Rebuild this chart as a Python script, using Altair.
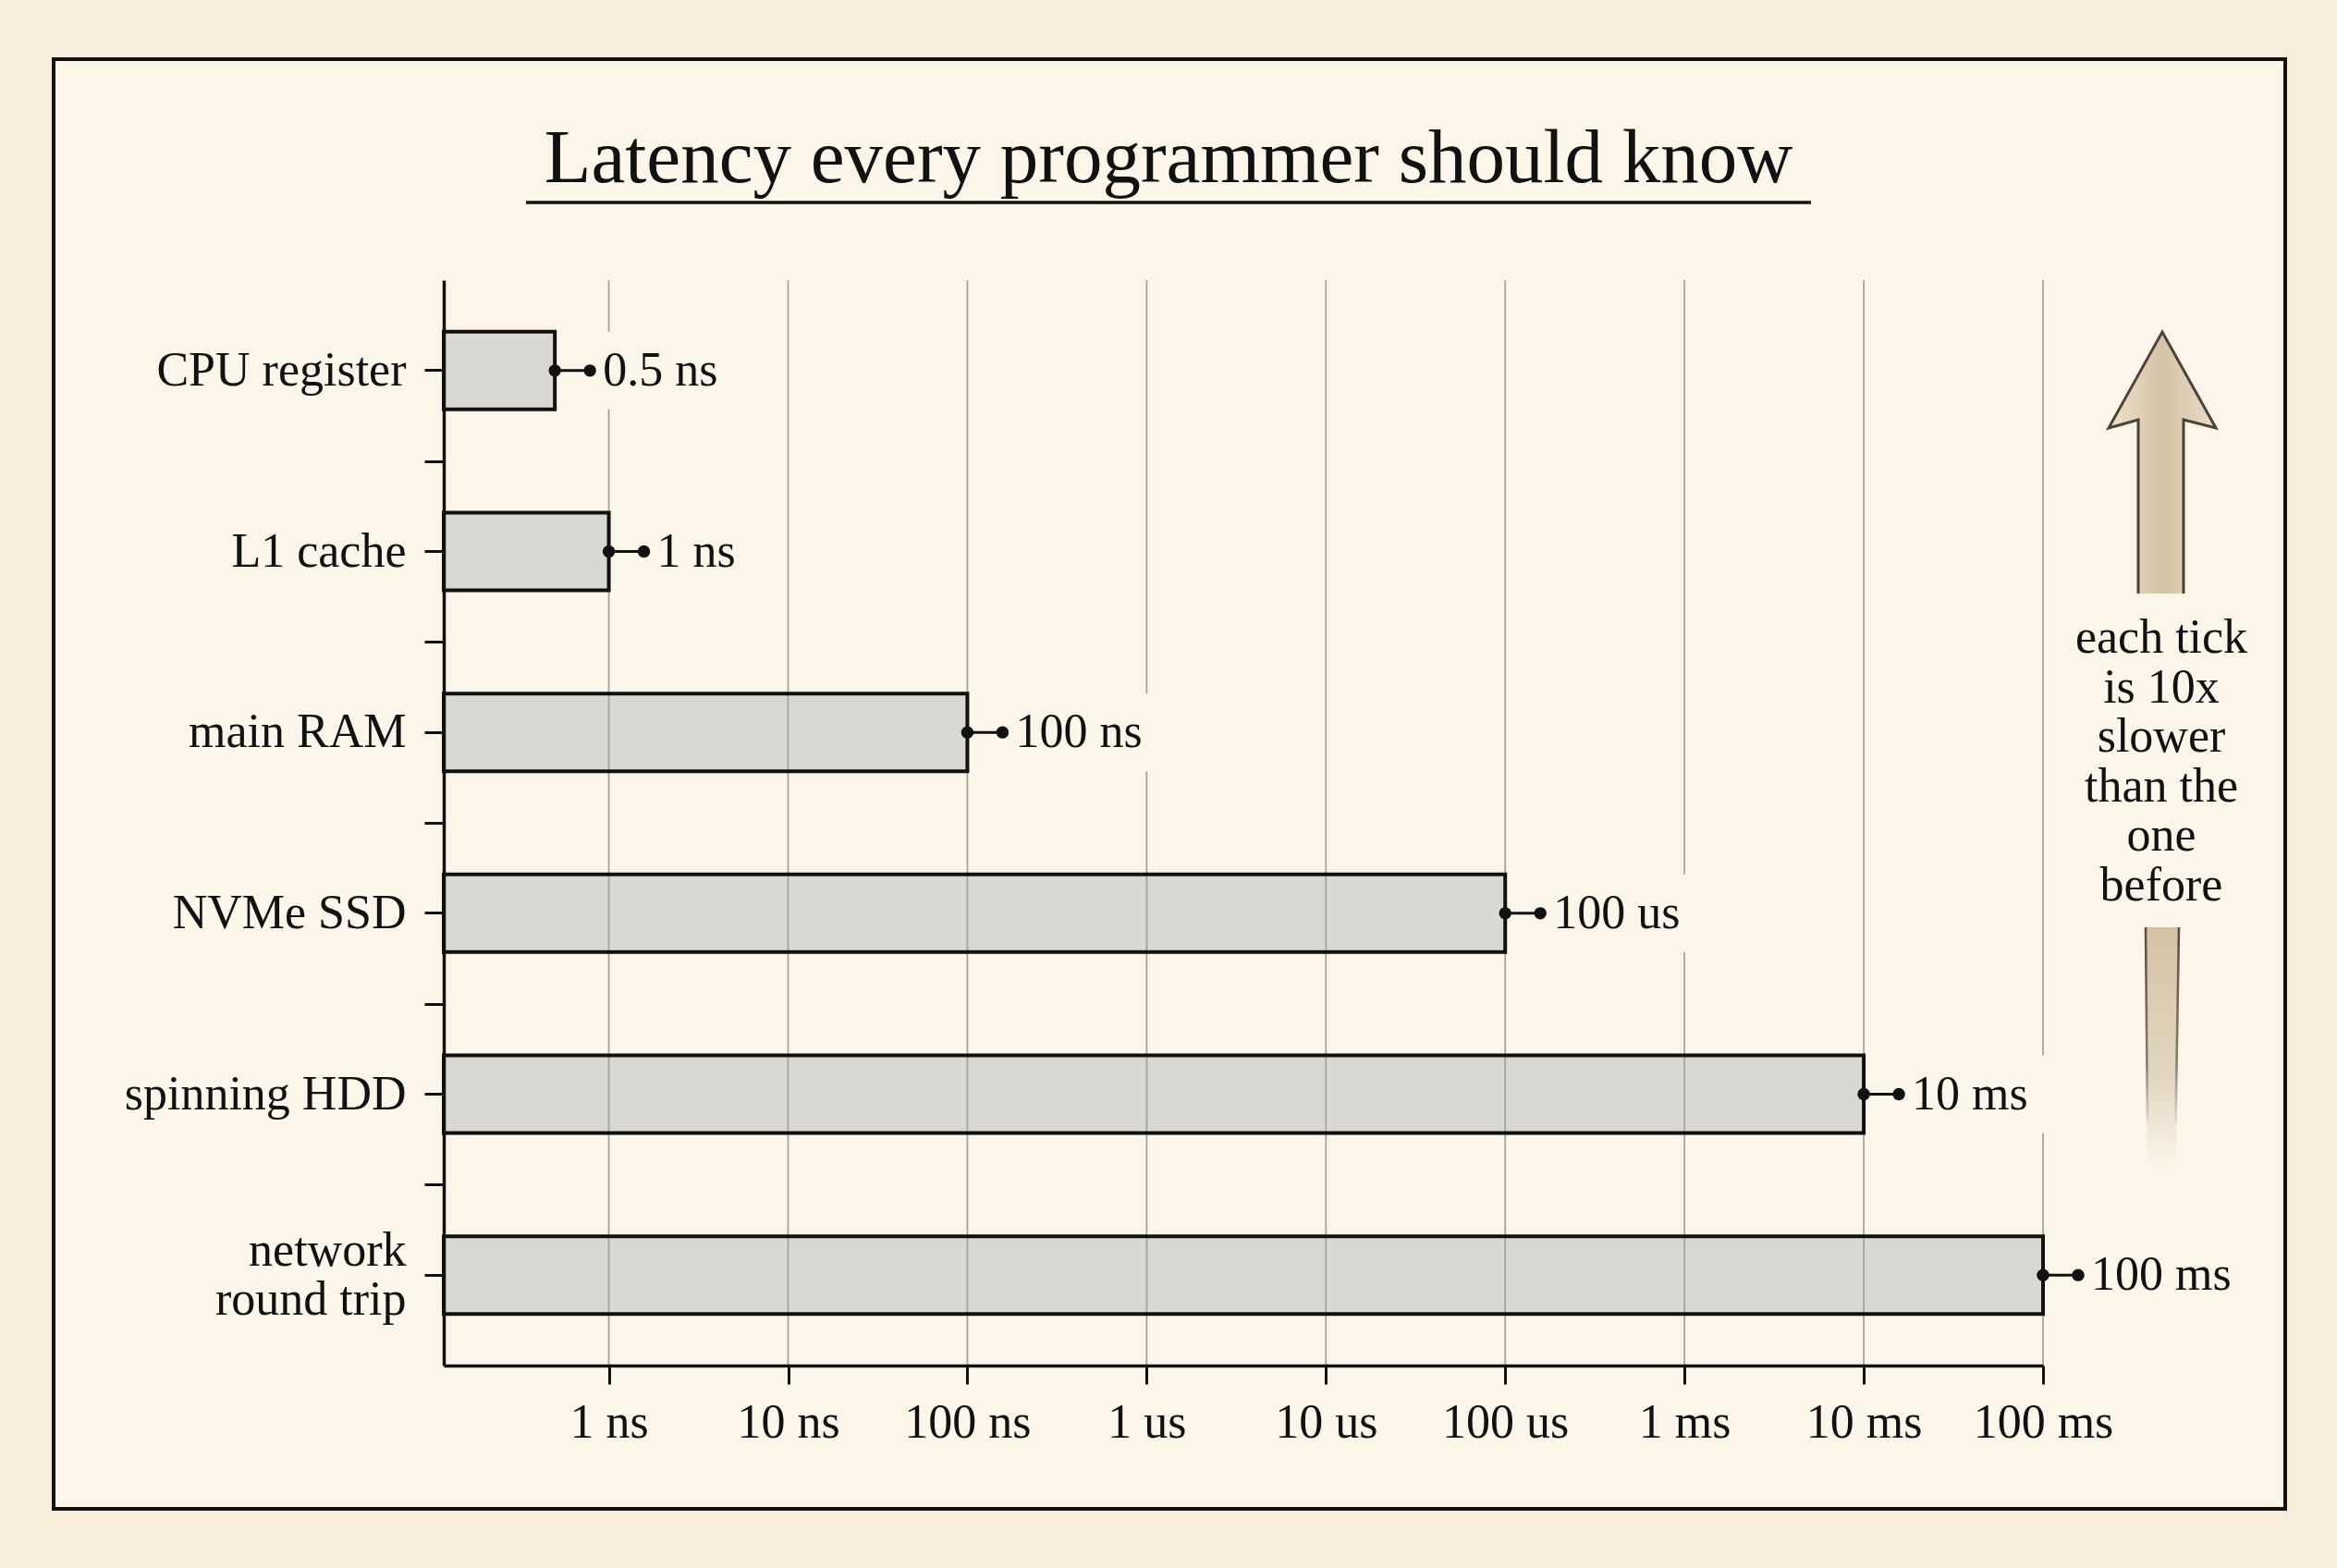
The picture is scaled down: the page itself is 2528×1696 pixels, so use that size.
import math

import altair as alt
import pandas as pd

# ---- data -----------------------------------------------------------------
CATEGORIES = ["CPU register", "L1 cache", "main RAM", "NVMe SSD",
              "spinning HDD", "network\nround trip"]
LATENCY_NS = [0.5, 1, 100, 100000, 10000000, 100000000]
UPPER_NS = [0.785, 1.57, 157, 157000, 15700000, 157000000]
VALUE_LABELS = ["0.5 ns", "1 ns", "100 ns", "100 us", "10 ms", "100 ms"]

TICK_NS = [1, 10, 100, 1000, 10000, 100000, 1000000, 10000000, 100000000]
TICK_LABELS = ["1 ns", "10 ns", "100 ns", "1 us", "10 us", "100 us",
               "1 ms", "10 ms", "100 ms"]

TITLE = "Latency every programmer should know"
NOTE_LINES = ["each tick", "is 10x", "slower", "than the", "one", "before"]

X_DOMAIN = [0.12, 100000000]

# ---- style ----------------------------------------------------------------
FONT = "Liberation Serif"
INK = "#111111"
PAPER_OUT = "#f9eddb"
PAPER_IN = "#fcf6ea"
BAR_FILL = "#dad8d2"
GRID = "#a9a49b"
ARROW_INK = "#4d4236"

W, H = 1730, 1174
PAD = {"left": 480, "top": 303, "right": 318, "bottom": 219}
DECADE_PX = W / math.log10(X_DOMAIN[1] / X_DOMAIN[0])

df = pd.DataFrame({
    "name": CATEGORIES,
    "latency": LATENCY_NS,
    "hi": UPPER_NS,
    "label": VALUE_LABELS,
})
ticks_df = pd.DataFrame({"tick": TICK_NS})
one = pd.DataFrame({"k": [0]})

x_scale = alt.Scale(type="log", domain=X_DOMAIN, nice=False)
y_scale = alt.Scale(domain=CATEGORIES, paddingInner=0.571, paddingOuter=0.2855)

label_expr = " : ".join(
    f"datum.value == {v} ? '{l}'" for v, l in zip(TICK_NS, TICK_LABELS)
) + " : ''"

x_axis = alt.Axis(
    title=None, values=TICK_NS, labelExpr=label_expr,
    labelFont=FONT, labelFontSize=52, labelColor=INK, labelPadding=16,
    labelFlush=False, labelOverlap=False, labelLimit=500,
    ticks=True, tickSize=20, tickWidth=3, tickColor=INK,
    domain=True, domainColor=INK, domainWidth=3.5,
    grid=False, zindex=1,
)


def X(field):
    # every layer carries the same x axis so the shared axis merges cleanly
    return alt.X(field, scale=x_scale, axis=x_axis)


y_axis_labels = alt.Axis(
    title=None, orient="left",
    labelFont=FONT, labelFontSize=52, labelColor=INK, labelPadding=20,
    labelExpr="split(datum.label, '\\n')", labelLineHeight=53, labelLimit=600,
    labelOffset={"condition": {"test": "indexof(datum.value, '\\n') >= 0",
                               "value": -26.5},
                 "value": 0},
    ticks=True, tickSize=21, tickWidth=3, tickColor=INK,
    domain=True, domainColor=INK, domainWidth=3.5,
    grid=False, zindex=1,
)

base = alt.Chart(df)
Y_plain = alt.Y("name:N", scale=y_scale, axis=None)

# outer frame of the card
frame = alt.Chart(one).mark_rect(
    fill=PAPER_IN, stroke=INK, strokeWidth=4
).encode(
    x=alt.value(-422), x2=alt.value(1992), y=alt.value(-239), y2=alt.value(1329)
)

title = alt.Chart(one).mark_text(
    text=TITLE, font=FONT, fontSize=83, color=INK,
    align="center", baseline="alphabetic",
).encode(x=alt.value(784), y=alt.value(-106))

underline = alt.Chart(one).mark_rule(color=INK, strokeWidth=3.5).encode(
    x=alt.value(89), x2=alt.value(1479), y=alt.value(-84)
)

# bar fills (drawn under the gridlines)
bars_fill = base.mark_bar(fill=BAR_FILL, strokeWidth=0).transform_calculate(
    base=str(X_DOMAIN[0])
).encode(
    x=X("latency:Q"),
    x2="base:Q",
    y=alt.Y("name:N", scale=y_scale, axis=y_axis_labels),
)

grid = alt.Chart(ticks_df).mark_rule(color=GRID, strokeWidth=1.8).encode(
    x=X("tick:Q")
)

# short ticks on the category axis between neighbouring bands
band_edges = alt.Chart(one).mark_point(opacity=0).encode(
    y=alt.Y("k:Q",
            scale=alt.Scale(domain=[0, len(CATEGORIES)], nice=False, zero=False),
            axis=alt.Axis(values=list(range(1, len(CATEGORIES))), orient="left",
                          title=None, labels=False, domain=False, grid=False,
                          ticks=True, tickSize=21, tickWidth=3, tickColor=INK,
                          zindex=1)),
)

# paper-coloured boxes behind the value labels
boxes = base.mark_bar(fill=PAPER_IN, strokeWidth=0).transform_calculate(
    box_end=f"datum.hi * pow(10, (length(datum.label) * 26 + 40) / {DECADE_PX})"
).encode(
    x=X("hi:Q"),
    x2="box_end:Q",
    y=Y_plain,
)

bars_outline = base.mark_bar(
    fillOpacity=0, stroke=INK, strokeWidth=4
).transform_calculate(
    base=str(X_DOMAIN[0])
).encode(
    x=X("latency:Q"),
    x2="base:Q",
    y=Y_plain,
)

whisker = base.mark_rule(color=INK, strokeWidth=3).encode(
    x=X("latency:Q"), x2="hi:Q", y=Y_plain,
)
dot_lo = base.mark_circle(size=180, color=INK, opacity=1).encode(
    x=X("latency:Q"), y=Y_plain
)
dot_hi = base.mark_circle(size=180, color=INK, opacity=1).encode(
    x=X("hi:Q"), y=Y_plain
)
value_text = base.mark_text(
    align="left", baseline="middle", dx=14, font=FONT, fontSize=52, color=INK
).encode(
    x=X("hi:Q"), y=Y_plain, text="label:N"
)

# "slower" arrow on the right: head + upper shaft, and a fading lower shaft
ARROW_X, ARROW_Y, ARROW_SIZE = 1859, 497, 1000000
UPPER_FILL = ("M 0 -0.882 L 0.116 -0.674 L 0.046 -0.692 L 0.046 -0.316 "
              "L -0.052 -0.316 L -0.052 -0.692 L -0.116 -0.674 Z")
UPPER_LINE = ("M 0.046 -0.316 L 0.046 -0.692 L 0.116 -0.674 L 0 -0.882 "
              "L -0.116 -0.674 L -0.052 -0.692 L -0.052 -0.316")
LOWER_FILL = "M -0.036 0.406 L 0.036 0.406 L 0.030 0.90 Q 0 0.97 -0.032 0.90 Z"
LOWER_LINE = "M -0.036 0.406 L -0.032 0.83 M 0.036 0.406 L 0.029 0.83"

arrow_pos = dict(x=alt.value(ARROW_X), y=alt.value(ARROW_Y))

upper_fill = alt.Chart(one).mark_point(
    shape=UPPER_FILL, size=ARROW_SIZE, filled=True, opacity=1, strokeWidth=0,
    fill=alt.LinearGradient(
        gradient="linear", x1=0, x2=1, y1=0, y2=0,
        stops=[alt.GradientStop(offset=0, color="#ede2d0"),
               alt.GradientStop(offset=0.5, color="#d6c3a6"),
               alt.GradientStop(offset=1, color="#e8dcc8")],
    ),
).encode(**arrow_pos)
upper_line = alt.Chart(one).mark_point(
    shape=UPPER_LINE, size=ARROW_SIZE, filled=False, opacity=1,
    stroke=ARROW_INK, strokeWidth=3,
).encode(**arrow_pos)
lower_fill = alt.Chart(one).mark_point(
    shape=LOWER_FILL, size=ARROW_SIZE, filled=True, opacity=1, strokeWidth=0,
    fill=alt.LinearGradient(
        gradient="linear", x1=0, x2=0, y1=0, y2=1,
        stops=[alt.GradientStop(offset=0, color="#d6c3a6"),
               alt.GradientStop(offset=0.6, color="#e3d5bf"),
               alt.GradientStop(offset=1, color=PAPER_IN)],
    ),
).encode(**arrow_pos)
lower_line = alt.Chart(one).mark_point(
    shape=LOWER_LINE, size=ARROW_SIZE, filled=False, opacity=1, strokeWidth=2.6,
    stroke=alt.LinearGradient(
        gradient="linear", x1=0, x2=0, y1=0, y2=1,
        stops=[alt.GradientStop(offset=0, color="#5a4e40"),
               alt.GradientStop(offset=0.7, color="#8a7e70"),
               alt.GradientStop(offset=1, color="#e8dccb")],
    ),
).encode(**arrow_pos)

note = alt.Chart(one).mark_text(
    text=NOTE_LINES, align="center", baseline="middle", lineHeight=53.5,
    font=FONT, fontSize=52, color=INK,
).encode(x=alt.value(1858), y=alt.value(387))

chart = alt.layer(
    frame, title, underline, bars_fill, grid, band_edges, boxes, bars_outline,
    whisker, dot_lo, dot_hi, value_text,
    upper_fill, lower_fill, upper_line, lower_line, note,
).resolve_scale(
    y="independent"
).properties(
    width=W, height=H,
    autosize=alt.AutoSizeParams(type="none"),
    padding=PAD,
    background=PAPER_OUT,
).configure_view(strokeWidth=0)

chart.save("out.html", embed_options={"renderer": "svg", "actions": False})
